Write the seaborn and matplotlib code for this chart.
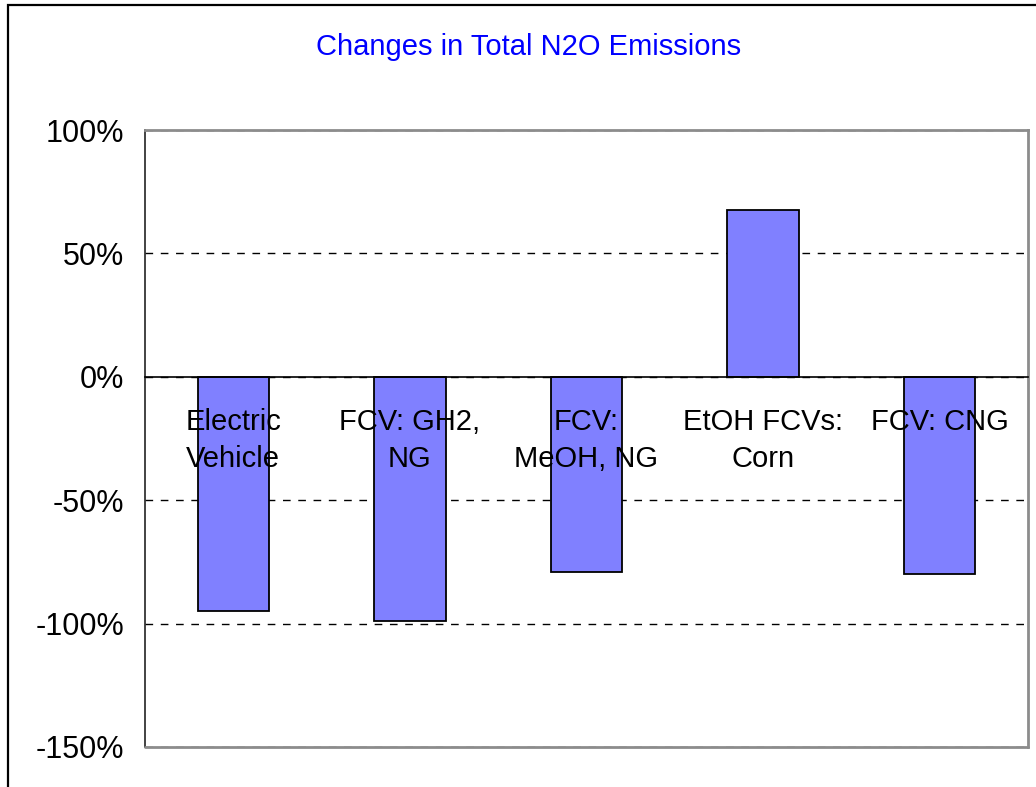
import matplotlib
matplotlib.use("Agg")
import matplotlib.pyplot as plt
from matplotlib.patches import Rectangle
from matplotlib.ticker import FixedLocator, FuncFormatter, NullFormatter
from matplotlib import transforms
import seaborn as sns
import pandas as pd

# Chart data
categories = ["Electric\nVehicle", "FCV: GH2,\nNG", "FCV:\nMeOH, NG", "EtOH FCVs:\nCorn", "FCV: CNG"]
n2o_change_pct = [-95, -99, -79, 67.5, -80]
y_ticks = [100, 50, 0, -50, -100, -150]
title = "Changes in Total N2O Emissions"

sns.set_style("white")
plt.rcParams["font.family"] = ["Liberation Sans", "DejaVu Sans"]

W, H = 1036, 787
fig = plt.figure(figsize=(W / 100, H / 100), dpi=100)
fig.patch.set_facecolor("white")

# outer chart border (open towards the right/bottom edges)
fig.patches.append(Rectangle((8 / W, -0.2), 1.5, (H - 5) / H + 0.2,
                             transform=fig.transFigure, fill=False,
                             edgecolor="black", linewidth=1.6))

left, right, top, bottom = 145, 1028, 130, 747
ax = fig.add_axes([left / W, 1 - bottom / H, (right - left) / W, (bottom - top) / H])

df = pd.DataFrame({"category": categories, "change": n2o_change_pct})
sns.barplot(data=df, x="category", y="change", color="#8080FF", saturation=1,
            edgecolor="black", linewidth=1.3, width=0.405, ax=ax, zorder=3)

ax.set_xlim(-0.5, len(categories) - 0.5)
ax.set_ylim(-150, 100)
ax.yaxis.set_major_locator(FixedLocator(y_ticks))
ax.yaxis.set_major_formatter(FuncFormatter(lambda v, _: f"{v:.0f}%"))
ax.set_xlabel("")
ax.set_ylabel("")

# dashed gridlines
ax.set_axisbelow(True)
ax.yaxis.grid(True, color="black", linestyle=(0, (5.5, 5.5)), linewidth=1)

# category axis sits on the zero line
ax.spines["bottom"].set_position(("data", 0))
ax.spines["bottom"].set_color("black")
ax.spines["bottom"].set_linewidth(1.2)
ax.spines["bottom"].set_zorder(4)
ax.spines["left"].set_color("#222222")
ax.spines["left"].set_linewidth(1.2)
for s in ("top", "right"):
    ax.spines[s].set_color("#8c8c8c")
    ax.spines[s].set_linewidth(2)
ax.plot([0, 1], [0, 0], transform=ax.transAxes, color="#8c8c8c", lw=2, clip_on=False, zorder=4)

ax.set_xticks(range(len(categories)))
ax.xaxis.set_major_formatter(NullFormatter())
ax.tick_params(axis="x", which="major", length=0)
ax.set_xticks([i - 0.5 for i in range(len(categories) + 1)], minor=True)
ax.tick_params(axis="x", which="minor", direction="in", length=6.5, width=1, color="black")

# category names drawn on top of the bars, just below the zero line
label_tf = transforms.offset_copy(ax.transData, fig=fig, y=-22.5, units="points")
for i, name in enumerate(categories):
    ax.text(i, 0, name, transform=label_tf, ha="center", va="top", fontsize=21,
            color="black", linespacing=1.42, zorder=6, multialignment="center")

ax.tick_params(axis="y", direction="in", length=6.5, width=1, color="black",
               labelsize=22, labelcolor="black", pad=15)

fig.text(529 / W, 1 - 55 / H, title, color="#0000FF", fontsize=21,
         ha="center", va="baseline")

fig.savefig("out.png", dpi=100)
